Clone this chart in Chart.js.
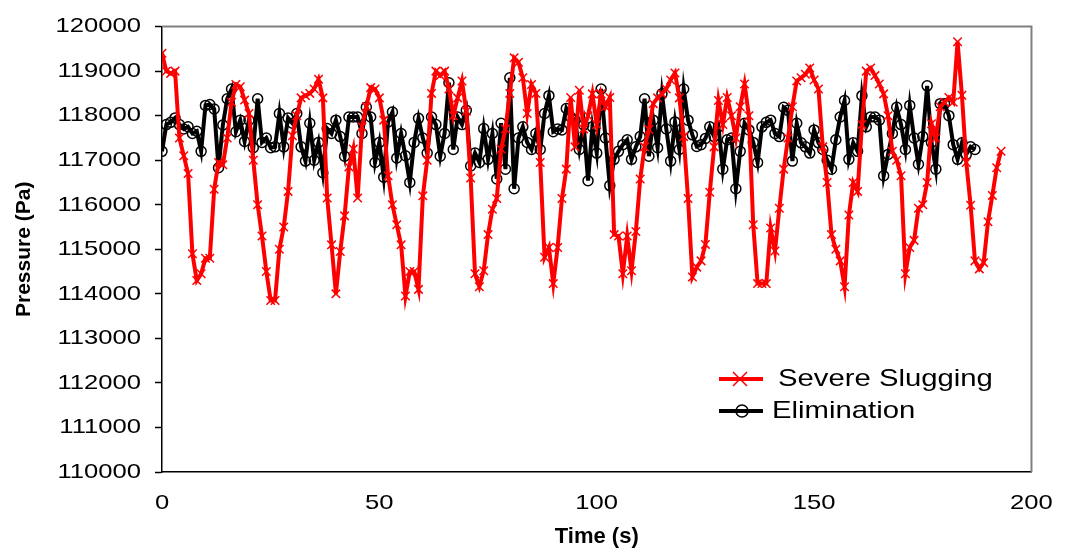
<!DOCTYPE html>
<html><head><meta charset="utf-8">
<script src="https://cdn.jsdelivr.net/npm/chart.js@4.4.0/dist/chart.umd.min.js"></script>
<style>html,body{margin:0;padding:0;background:#fff;}canvas{display:block;}</style>
</head><body>
<canvas id="c" width="1068" height="552"></canvas>
<script>
// ---- data ----
const seriesNames = ['Severe Slugging', 'Elimination'];
const axisTitles = ['Time (s)', 'Pressure (Pa)'];
const sampleStepSeconds = 1;
const xTickStep = 50;
const xRange = [0, 200];
const yRange = [110000, 120000];
const yTickStep = 1000;

const severeSlugging = [
119400,119000,118950,119000,117500,117100,116700,114900,114300,114450,
114800,114800,116350,116950,116900,117500,118300,118700,118650,118350,
118050,117000,116000,115300,114500,113850,113850,115000,115500,116300,
117550,118000,118400,118450,118500,118600,118820,118400,116150,115100,
114000,114950,115750,116850,117250,116150,117750,118200,118630,118600,
118400,117900,116650,116000,115550,115100,113950,114500,114500,114100,
116200,117000,118500,119000,118900,119000,118600,118000,118400,118780,
118100,116600,114450,114160,114520,115330,115900,116140,117250,117700,
118500,119300,119200,118850,118050,118700,118500,116950,114820,115040,
114230,115040,116140,116800,118410,117300,118570,117700,118000,118490,
117800,118490,118200,118410,115330,115300,114450,115300,114520,115400,
116580,117300,117690,118270,118400,118490,118600,118800,118960,118400,
117530,116140,114380,114600,114740,115110,116280,117300,118340,117800,
118410,118000,117500,118200,118710,118000,115550,114230,114230,114230,
115480,114960,115920,116800,117500,118200,118780,118850,118930,119070,
118800,118600,117300,116500,115330,115000,114740,114160,115770,116500,
116300,117800,119000,119070,118900,118710,118490,118000,117200,117000,
116650,114450,115040,115200,115920,116000,116500,117820,117500,118200,
118300,118410,118300,119660,118460,116950,115990,114740,114560,114700,
115620,116210,116830,117200
];

const elimination = [
117200,117800,117850,117950,117800,117700,117750,117600,117650,117200,
118230,118250,118150,116830,117790,118380,118600,117640,117900,117420,
117900,117280,118380,117400,117500,117280,117300,118050,117300,117950,
117830,118050,117300,116980,117830,117000,117400,116720,117710,117600,
117900,117530,117090,117970,117970,117970,117600,118190,117970,116950,
117400,116620,117860,118080,117050,117600,117100,116500,117400,117940,
117500,117160,117970,117800,117090,117600,118740,117240,117970,117800,
118120,116870,117160,116950,117710,117020,117600,116580,117830,116800,
118850,116360,117500,117750,117400,117240,117600,117240,118050,118450,
117640,117700,117680,118160,117970,117900,117240,117790,116540,117750,
117160,118600,117500,116430,117020,117200,117350,117460,117020,117300,
117530,118380,117090,117900,117280,118490,117700,116980,117860,117240,
118600,117900,117570,117310,117350,117490,117750,117530,117750,116800,
117460,117500,116360,117200,117830,117680,117400,116950,117750,117850,
117900,117600,117530,118190,118120,116980,117830,117390,117300,117160,
117680,117390,117240,117000,116800,117460,117970,118340,117020,117390,
117200,118450,117750,117970,117970,117900,116650,117130,117600,118190,
117800,117240,118230,117500,116910,117530,118670,117400,116800,118270,
118270,118000,117350,117020,117390,117130,117300,117240
];

// ---- canvas text: reference text is horizontally stretched (non-bold) ----
const canvas = document.getElementById('c');
const ctx = canvas.getContext('2d');
const protoFill = CanvasRenderingContext2D.prototype.fillText;
const SX = 1.22;
ctx.fillText = function (t, x, y) {
  const m = this.getTransform();
  if (/bold/.test(this.font) || Math.abs(m.b) > 1e-6 || Math.abs(m.c) > 1e-6) {
    return protoFill.call(this, t, x, y);
  }
  this.save();
  this.translate(x, y);
  this.scale(SX, 1);
  protoFill.call(this, t, 0, 0);
  this.restore();
};

const FONT = 'Liberation Sans, Arial, sans-serif';

const framePlugin = {
  id: 'frameAndLegend',
  afterDraw(chart) {
    const c = chart.ctx;
    const a = chart.chartArea;
    c.save();
    c.strokeStyle = '#808080';
    c.lineWidth = 2;
    c.beginPath();
    c.moveTo(a.left, a.top);
    c.lineTo(a.right, a.top);
    c.lineTo(a.right, a.bottom);
    c.stroke();
    c.restore();

    // legend (line + marker sample, label)
    const items = [
      { y: 379, textX: 778, markerX: 740 },
      { y: 411, textX: 772, markerX: 742 }
    ];
    chart.data.datasets.forEach((ds, i) => {
      const it = items[i];
      c.save();
      c.strokeStyle = ds.borderColor;
      c.lineWidth = 4;
      c.beginPath();
      c.moveTo(719, it.y);
      c.lineTo(763, it.y);
      c.stroke();
      c.lineWidth = 1.5;
      c.strokeStyle = ds.pointBorderColor;
      c.beginPath();
      if (ds.pointStyle === 'crossRot') {
        const r = 7;
        c.moveTo(it.markerX - r, it.y - r); c.lineTo(it.markerX + r, it.y + r);
        c.moveTo(it.markerX - r, it.y + r); c.lineTo(it.markerX + r, it.y - r);
      } else {
        c.arc(it.markerX, it.y, 6, 0, Math.PI * 2);
      }
      c.stroke();
      c.fillStyle = '#000';
      c.font = '24px ' + FONT;
      c.textAlign = 'left';
      c.textBaseline = 'middle';
      c.fillText(ds.label, it.textX, it.y);
      c.restore();
    });
  }
};

new Chart(ctx, {
  type: 'line',
  data: {
    datasets: [
      {
        label: seriesNames[0],
        data: severeSlugging.map((v, i) => ({ x: i * sampleStepSeconds, y: v })),
        borderColor: '#ff0000',
        backgroundColor: '#ff0000',
        borderWidth: 4,
        pointStyle: 'crossRot',
        pointRadius: 6,
        pointBorderWidth: 1.5,
        pointBorderColor: '#ff0000',
        pointBackgroundColor: '#ff0000',
        tension: 0,
        fill: false
      },
      {
        label: seriesNames[1],
        data: elimination.map((v, i) => ({ x: i * sampleStepSeconds, y: v })),
        borderColor: '#000000',
        backgroundColor: '#000000',
        borderWidth: 4,
        pointStyle: 'circle',
        pointRadius: 5,
        pointBorderWidth: 1.5,
        pointBorderColor: '#000000',
        pointBackgroundColor: 'rgba(0,0,0,0)',
        tension: 0,
        fill: false
      }
    ]
  },
  options: {
    responsive: false,
    animation: false,
    devicePixelRatio: 1,
    layout: { padding: { left: 0, right: 28, top: 18, bottom: 0 } },
    plugins: { legend: { display: false }, tooltip: { enabled: false } },
    scales: {
      x: {
        type: 'linear',
        min: xRange[0], max: xRange[1],
        ticks: {
          stepSize: xTickStep, color: '#000', maxRotation: 0, padding: 19,
          font: { family: FONT, size: 21 },
          callback: v => String(v)
        },
        grid: { display: true, drawOnChartArea: false, drawTicks: false },
        border: { color: '#000', width: 1.5 },
        title: {
          display: true, text: axisTitles[0], color: '#000',
          font: { family: FONT, size: 22, weight: 'bold' },
          padding: { top: 0, bottom: 2 }
        },
        afterFit(s) { s.height = 80; }
      },
      y: {
        type: 'linear',
        min: yRange[0], max: yRange[1],
        ticks: {
          stepSize: yTickStep, color: '#000', padding: 14,
          font: { family: FONT, size: 21 },
          callback: v => String(v)
        },
        grid: { drawOnChartArea: false, drawTicks: true, tickLength: 7, tickColor: '#000', tickWidth: 1.5 },
        border: { color: '#000', width: 1.5 },
        title: {
          display: true, text: axisTitles[1], color: '#000',
          font: { family: FONT, size: 21, weight: 'bold' },
          padding: { top: 12, bottom: 0 }
        },
        afterFit(s) { s.width = 162; }
      }
    }
  },
  plugins: [framePlugin]
});
</script>
</body></html>
